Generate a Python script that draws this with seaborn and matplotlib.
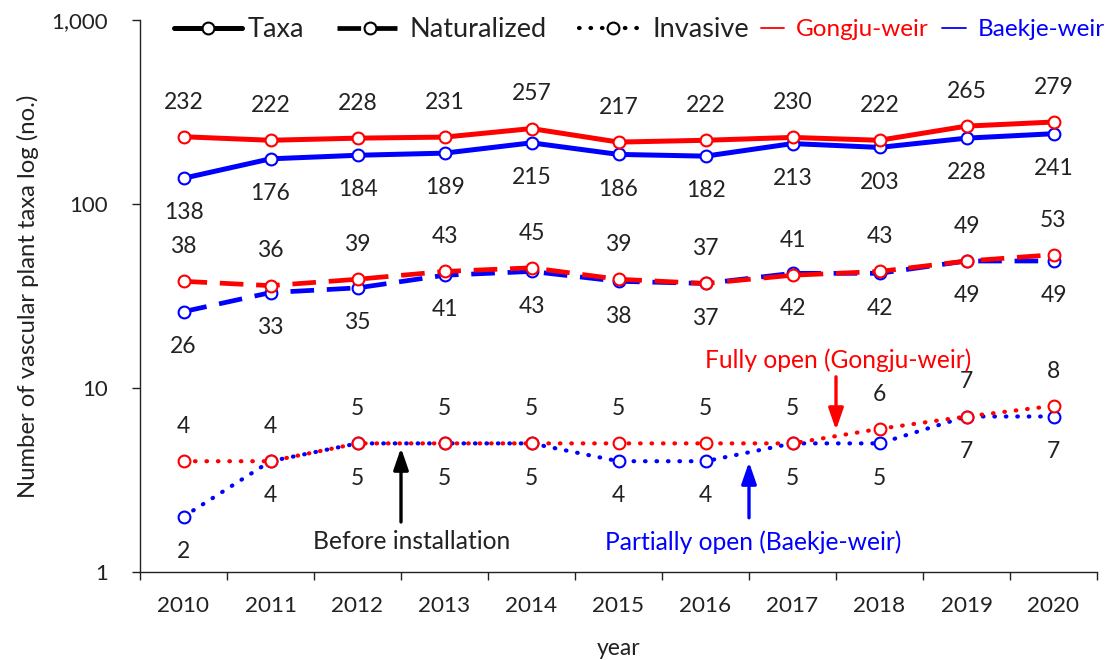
import matplotlib
matplotlib.use("Agg")
import matplotlib.pyplot as plt
from matplotlib.lines import Line2D
from matplotlib.ticker import FixedLocator, NullFormatter, FixedFormatter
import seaborn as sns
import pandas as pd
import numpy as np

years = ["2010", "2011", "2012", "2013", "2014", "2015", "2016", "2017", "2018", "2019", "2020"]
gongju_taxa = [232, 222, 228, 231, 257, 217, 222, 230, 222, 265, 279]
baekje_taxa = [138, 176, 184, 189, 215, 186, 182, 213, 203, 228, 241]
gongju_nat = [38, 36, 39, 43, 45, 39, 37, 41, 43, 49, 53]
baekje_nat = [26, 33, 35, 41, 43, 38, 37, 42, 42, 49, 49]
gongju_inv = [4, 4, 5, 5, 5, 5, 5, 5, 6, 7, 8]
baekje_inv = [2, 4, 5, 5, 5, 4, 4, 5, 5, 7, 7]

sns.set_style("white")
plt.rcParams['font.family'] = ['Lato', 'DejaVu Sans']

TXT = "#222222"
RED = "#ff0000"
BLUE = "#0000ff"
SOLID = "-"
DASH = (0, (5, 2.7))
DOT = (0, (0.15, 2.6))

fig = plt.figure(figsize=(11.05, 6.6), dpi=100)
ax = fig.add_axes([140/1105, 1 - 572/660, (1097-140)/1105, (572-20)/660])

x = np.arange(len(years))
series = [
    (gongju_taxa, RED, SOLID, 3.6, "above"),
    (baekje_taxa, BLUE, SOLID, 3.6, "below"),
    (gongju_nat, RED, DASH, 3.4, "above"),
    (baekje_nat, BLUE, DASH, 3.4, "below"),
    (gongju_inv, RED, DOT, 3.0, "above"),
    (baekje_inv, BLUE, DOT, 3.0, "below"),
]
order = [1, 0, 3, 2, 5, 4]
for i in order:
    vals, col, ls, lw, pos = series[i]
    df = pd.DataFrame({"x": x, "y": vals})
    sns.lineplot(data=df, x="x", y="y", ax=ax, color=col, linewidth=lw,
                 marker="o", markersize=8.5, markerfacecolor="white",
                 markeredgecolor=col, markeredgewidth=1.5, zorder=3)
    ln = ax.lines[-1]
    ln.set_linestyle(ls)
    if ls == DOT:
        ln.set_dash_capstyle("round")

for vals, col, ls, lw, pos in series:
    for xi, v in zip(x, vals):
        off = 25 if pos == "above" else -25
        ax.annotate(str(v), (xi, v), xytext=(0, off), textcoords="offset points",
                    ha="center", va="center", fontsize=16.5, color=TXT)

ax.set_yscale("log")
ax.set_ylim(1, 1000)
ax.set_xlim(-0.5, len(years) - 0.5)
ax.yaxis.set_major_locator(FixedLocator([1, 10, 100, 1000]))
ax.yaxis.set_major_formatter(FixedFormatter(["1", "10", "100", "1,000"]))
ax.yaxis.set_minor_locator(FixedLocator([]))

ax.xaxis.set_major_locator(FixedLocator(np.arange(-0.5, len(years), 1.0)))
ax.xaxis.set_major_formatter(NullFormatter())
ax.xaxis.set_minor_locator(FixedLocator(x))
ax.xaxis.set_minor_formatter(FixedFormatter(years))
ax.tick_params(axis="x", which="minor", length=0, labelsize=16.2, pad=17, colors=TXT)
ax.tick_params(axis="x", which="major", length=6, width=1, direction="out", color=TXT, bottom=True)
ax.tick_params(axis="y", which="major", length=6, width=1, direction="out", labelsize=16, pad=17,
               color=TXT, labelcolor=TXT, left=True)

for s in ["top", "right"]:
    ax.spines[s].set_visible(False)
for s in ["left", "bottom"]:
    ax.spines[s].set_color(TXT)
    ax.spines[s].set_linewidth(1.0)

ax.set_xlabel("year", fontsize=16.5, color=TXT, labelpad=16)
ax.set_ylabel("Number of vascular plant taxa log (no.)", fontsize=17.2, color=TXT, labelpad=9)

# annotations with arrows
arrow_kw = dict(arrowstyle="-|>,head_width=0.45,head_length=1.3", lw=2.4, shrinkA=0, shrinkB=0)
ax.annotate("", xy=(2.5, 4.72), xytext=(2.5, 1.87), arrowprops=dict(color="black", **arrow_kw))
ax.text(2.62, 1.456, "Before installation", ha="center", va="center", fontsize=17.7, color=TXT)
ax.annotate("", xy=(6.5, 3.96), xytext=(6.5, 1.97), arrowprops=dict(color=BLUE, **arrow_kw))
ax.text(6.55, 1.456, "Partially open (Baekje-weir)", ha="center", va="center", fontsize=17.7, color=BLUE)
ax.annotate("", xy=(7.5, 5.91), xytext=(7.5, 11.5), arrowprops=dict(color=RED, **arrow_kw))
ax.text(7.53, 14.2, "Fully open (Gongju-weir)", ha="center", va="center", fontsize=17.7, color=RED)

mk = dict(marker="o", markersize=8.5, markerfacecolor="white", markeredgecolor="black", markeredgewidth=1.5)
h1 = [
    Line2D([], [], color="black", lw=3.6, ls=SOLID, **mk),
    Line2D([], [], color="black", lw=3.4, ls=DASH, **mk),
    Line2D([], [], color="black", lw=3.0, ls=DOT, dash_capstyle="round", **mk),
]
leg1 = ax.legend(h1, ["Taxa", "Naturalized", "Invasive"], loc="center left",
                 bbox_to_anchor=(0.036, 0.982), ncol=3, frameon=False, borderpad=0, borderaxespad=0,
                 fontsize=19.5, handlelength=2.5, handletextpad=0.2, columnspacing=1.2)
for t in leg1.get_texts():
    t.set_color(TXT)
ax.add_artist(leg1)
h2 = [Line2D([], [], color=RED, lw=1.3), Line2D([], [], color=BLUE, lw=1.3)]
leg2 = ax.legend(h2, ["Gongju-weir", "Baekje-weir"], loc="center left",
                 bbox_to_anchor=(0.649, 0.982), ncol=2, frameon=False, borderpad=0, borderaxespad=0,
                 fontsize=17.5, handlelength=0.95, handletextpad=0.5, columnspacing=0.55)
for t, c in zip(leg2.get_texts(), [RED, BLUE]):
    t.set_color(c)

fig.savefig("out.png", dpi=100)
